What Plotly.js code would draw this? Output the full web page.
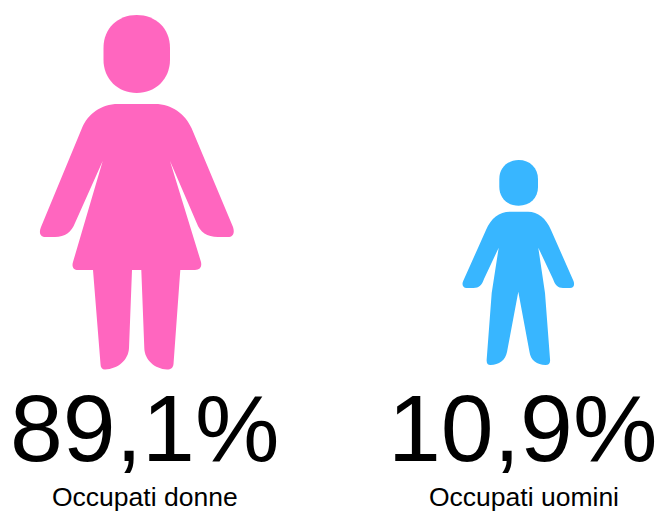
<!DOCTYPE html>
<html>
<head>
<meta charset="utf-8">
<script src="https://cdn.plot.ly/plotly-3.0.1.min.js"></script>
<style>html,body{margin:0;padding:0;background:#fff}#chart{width:657px;height:512px}</style>
</head>
<body>
<div id="chart"></div>
<script>
var categories = ["Occupati donne", "Occupati uomini"];
var shares = [89.1, 10.9];
var colours = ["#FF66BF", "#38B6FF"];

var womanHead = "M103.5 48 C103.5 28 118 15 136.7 15 C155.5 15 170 28 170 48 L170 60 C170 79 155.5 93 136.7 93 C118 93 103.5 79 103.5 60 Z";
var womanBody = "M118 104 L155 104 C172 104 185 114 191.5 128 L233 227 C235 233 233 237 228 237 L218 237 C207 237 200 232 196.7 223 L170 161 L201 262 C202 267 200 270 195 270 L180.3 270 L173.5 364 C173 368 171 369.5 167 369.5 C155 369 144.5 360 144.3 348 L141.3 270 L132 270 L129 348 C128.5 360 118 369 105 369.5 C102 369.5 100.5 367.5 100.5 364 L93 270 L78 270 C73.5 270 71.5 267 73 262 L102.7 161 L75 223 C71.5 232 65 237 55 237 L45 237 C40.5 237 38.5 233 41 227 L82 128 C88 114 101 104 118 104 Z";
var manHead = "M499.3 179 C499.3 168 507.5 160 518.7 160 C530 160 538 168 538 179 L538 187 C538 198 530 205.7 518.7 205.7 C507.5 205.7 499.3 198 499.3 187 Z";
var manBody = "M510 211.7 L528 211.7 C538 211.7 546 218 551 230 L573.5 281 C575 285 573.5 288 570 288 L563 288 C558 288 555 285 553 279 L538.3 247.7 L545 293 L550 359 C550.5 363 549 365 545.5 365 C537 365 530.5 360 529.5 352 L518.3 291.7 L507 352 C505.5 360 499 365 490.5 365 C487.5 365 486.3 363 486.7 359 L491.7 293 L498.7 247.7 L484 279 C482 285 479 288 473.5 288 L466.5 288 C463 288 461.5 285 463.2 281 L486 230 C491 218 499 211.7 510 211.7 Z";

function figure(path, colour) {
  return {type: "path", xref: "x", yref: "y", path: path, fillcolor: colour, line: {width: 0}, layer: "above"};
}
function fmt(v) { return v.toFixed(1).replace(".", ",") + "%"; }

var font = "Liberation Sans, Arial, sans-serif";
var numberX = [144, 522.5];
var labelX = [145, 524];

var annotations = [];
categories.forEach(function (c, i) {
  annotations.push({x: numberX[i], y: 428, xref: "x", yref: "y", text: fmt(shares[i]), showarrow: false,
    xanchor: "center", yanchor: "middle", font: {family: font, size: 95, color: "#000"}});
  annotations.push({x: labelX[i], y: 497, xref: "x", yref: "y", text: c, showarrow: false,
    xanchor: "center", yanchor: "middle", font: {family: font, size: 26.5, color: "#000"}});
});

Plotly.newPlot("chart", [{x: [0], y: [0], mode: "markers", marker: {opacity: 0}, hoverinfo: "skip", showlegend: false}], {
  width: 657, height: 512,
  margin: {l: 0, r: 0, t: 0, b: 0, pad: 0},
  paper_bgcolor: "#fff", plot_bgcolor: "#fff",
  showlegend: false,
  xaxis: {range: [0, 657], visible: false, fixedrange: true},
  yaxis: {range: [512, 0], visible: false, fixedrange: true},
  shapes: [figure(womanHead, colours[0]), figure(womanBody, colours[0]), figure(manHead, colours[1]), figure(manBody, colours[1])],
  annotations: annotations
}, {displayModeBar: false, staticPlot: true});
</script>
</body>
</html>
